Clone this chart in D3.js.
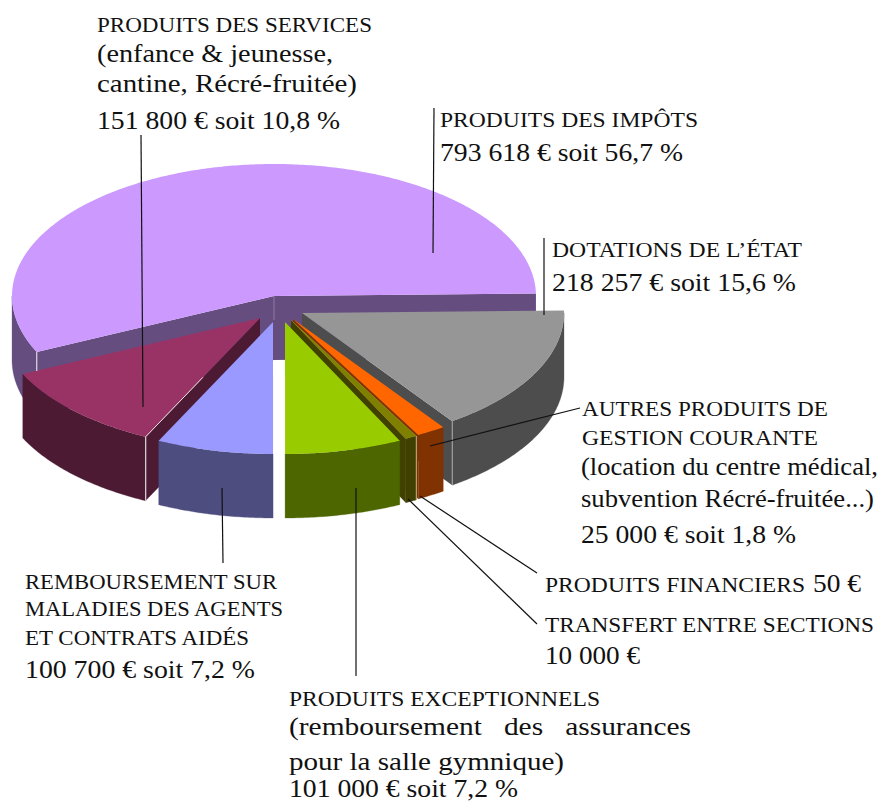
<!DOCTYPE html>
<html>
<head>
<meta charset="utf-8">
<script src="https://cdn.jsdelivr.net/npm/d3@7"></script>
<style>
  html, body { margin: 0; padding: 0; background: #fff; }
  text { font-family: "Liberation Serif", serif; fill: #111; }
</style>
</head>
<body>
<div id="chart"></div>
<script>
/////////////////////////////////////////////////////
/////////////////////// Data ////////////////////////
/////////////////////////////////////////////////////

// Clockwise from the east side of the pie
const categories = [
  "Dotations de l'État",
  "Autres produits de gestion courante",
  "Produits financiers",
  "Transfert entre sections",
  "Produits exceptionnels",
  "Remboursement sur maladies",
  "Produits des services",
  "Produits des impôts"
];
const values = [218257, 25000, 50, 10000, 101000, 100700, 151800, 793618];

/////////////////////////////////////////////////////
////////////////////// Styling //////////////////////
/////////////////////////////////////////////////////

const width = 881, height = 803;

const top_colors  = ["#969696", "#ff6600", "#c8b070", "#808000", "#99cc00", "#9999ff", "#993366", "#cc99ff"];
const wall_colors = ["#4d4d4d", "#803300", "#c8b070", "#404000", "#4d6600", "#4d4d80", "#4d1a33", "#664d80"];

// Pie center, radii and thickness on screen
const cx = 274, cy = 296, rx = 262, ry = 132, depth = 64;

// How far each slice has been pulled out of the pie
const explode = [[28, 17], [19, 23], [17, 24], [17, 24], [11, 26], [-1, 26], [-14, 22], [0, 0]];

// Back to front
const draw_order = [7, 6, 5, 0, 1, 2, 3, 4];

// Light edges left by the 3D rendering: slice, which end, opacity
const highlights = [[7, "start", 0.75], [6, "start", 0.8], [0, "end", 0.4], [3, "start", 0.35]];

/////////////////////////////////////////////////////
/////////////////////// Labels //////////////////////
/////////////////////////////////////////////////////

const caps_size = 20.5, body_size = 26;

// [text, x, baseline, size, wanted width]
const label_lines = [
  ["PRODUITS DES SERVICES", 97, 32, caps_size, 275],
  ["(enfance & jeunesse,", 97, 62, body_size, 236],
  ["cantine, Récré-fruitée)", 97, 92, body_size, 260],
  ["151 800 € soit 10,8 %", 97, 129, body_size, 243],
  ["PRODUITS DES IMPÔTS", 440, 127, caps_size, 258],
  ["793 618 € soit 56,7 %", 440, 161, body_size, 243],
  ["DOTATIONS DE L’ÉTAT", 552, 257, caps_size, 250],
  ["218 257 € soit 15,6 %", 552, 291, body_size, 244],
  ["AUTRES PRODUITS DE", 582, 416, caps_size, 246],
  ["GESTION COURANTE", 582, 445, caps_size, 236],
  ["(location du centre médical,", 581, 475, body_size, 297],
  ["subvention Récré-fruitée...)", 581, 507, body_size, 293],
  ["25 000 € soit 1,8 %", 581, 543, body_size, 215],
  ["PRODUITS FINANCIERS", 545, 592, caps_size, 260],
  ["50 €", 813, 592, body_size, 48],
  ["TRANSFERT ENTRE SECTIONS", 545, 632, caps_size, 329],
  ["10 000 €", 545, 664, body_size, 95],
  ["REMBOURSEMENT SUR", 25, 589, caps_size, 252],
  ["MALADIES DES AGENTS", 25, 616, caps_size, 258],
  ["ET CONTRATS AIDÉS", 25, 645, caps_size, 224],
  ["100 700 € soit 7,2 %", 25, 678, body_size, 230],
  ["PRODUITS EXCEPTIONNELS", 289, 706, caps_size, 311],
  ["(remboursement   des   assurances", 289, 735, body_size, 402],
  ["pour la salle gymnique)", 289, 770, body_size, 275],
  ["101 000 € soit 7,2 %", 289, 797, 25, 229]
];

// Leader lines from the texts to the slices
const leaders = [
  [141, 135, 143, 407],
  [434, 108, 433, 253],
  [544, 238, 544, 315],
  [580, 408, 430, 446],
  [537, 573, 420, 496],
  [537, 624, 408, 499],
  [356, 488, 356, 676],
  [222, 488, 223, 563]
];

/////////////////////////////////////////////////////
/////////////////////// Chart ///////////////////////
/////////////////////////////////////////////////////

const svg = d3.select("#chart")
  .append("svg")
  .attr("width", width)
  .attr("height", height)
  .style("display", "block");

// Angle 0 is east and angles grow clockwise on screen, the pie is turned a little
const turn = -1.1 * Math.PI / 180;
const slices = d3.pie().sort(null).startAngle(turn).endAngle(turn + 2 * Math.PI)(values);

// Flatten the unit circle to the pie's ellipse
const x_scale = d3.scaleLinear().domain([-1, 1]).range([-rx, rx]);
const y_scale = d3.scaleLinear().domain([-1, 1]).range([-ry, ry]);
const to_path = d3.line();

const rim = (i, a, drop = 0) => [
  cx + explode[i][0] + x_scale(Math.cos(a)),
  cy + explode[i][1] + y_scale(Math.sin(a)) + drop
];
const apex = (i, drop = 0) => [cx + explode[i][0], cy + explode[i][1] + drop];
const arc_points = (i, a0, a1, drop = 0) => {
  const n = Math.max(1, Math.ceil((a1 - a0) * 90));
  return d3.range(n + 1).map(k => rim(i, a0 + (a1 - a0) * k / n, drop));
};

const pie = svg.append("g").attr("class", "pie");

draw_order.forEach(i => {
  const s = slices[i];
  const g = pie.append("g").attr("class", "slice").attr("data-name", categories[i]);

  // Radial wall, only the side facing the viewer
  [s.startAngle, s.endAngle].forEach((a, k) => {
    const seen = k === 0 ? Math.cos(a) < 0 : Math.cos(a) > 0;
    if (!seen) return;
    g.append("path")
      .attr("d", to_path([apex(i), rim(i, a), rim(i, a, depth), apex(i, depth)]) + "Z")
      .attr("fill", wall_colors[i]);
  });

  // Outer wall, only the front half of the rim
  const a0 = Math.max(s.startAngle, 0), a1 = Math.min(s.endAngle, Math.PI);
  if (a1 > a0) {
    g.append("path")
      .attr("d", to_path(arc_points(i, a0, a1).concat(arc_points(i, a0, a1, depth).reverse())) + "Z")
      .attr("fill", wall_colors[i])
      .attr("stroke", wall_colors[i])
      .attr("stroke-width", i === 2 ? 0.8 : 0.3);
  }

  // Top
  g.append("path")
    .attr("d", to_path([apex(i)].concat(arc_points(i, s.startAngle, s.endAngle))) + "Z")
    .attr("fill", top_colors[i]);
});

// Light edges
highlights.forEach(([i, end, opacity]) => {
  const a = end === "start" ? slices[i].startAngle : slices[i].endAngle;
  const top = rim(i, a);
  pie.append("path")
    .attr("d", to_path([top, rim(i, a, i === 7 ? 19 : depth)]))
    .attr("fill", "none")
    .attr("stroke", "#fff")
    .attr("stroke-opacity", opacity)
    .attr("stroke-width", 1.2);
  if (i === 6) {
    // the front edge of this slice also catches the light, half way up
    const mid = apex(i);
    pie.append("path")
      .attr("d", to_path([top, [(top[0] + mid[0]) / 2, (top[1] + mid[1]) / 2]]))
      .attr("fill", "none")
      .attr("stroke", "#fff")
      .attr("stroke-opacity", opacity)
      .attr("stroke-width", 1);
  }
});

// The corner of the big slice's two inner walls
pie.append("path")
  .attr("d", to_path([apex(7), apex(7, 24)]))
  .attr("fill", "none")
  .attr("stroke", "#fff")
  .attr("stroke-opacity", 0.25)
  .attr("stroke-width", 1);

// Leader lines
svg.append("g").attr("class", "leaders").selectAll("line")
  .data(leaders)
  .enter().append("line")
  .attr("x1", d => d[0])
  .attr("y1", d => d[1])
  .attr("x2", d => d[2])
  .attr("y2", d => d[3])
  .attr("stroke", "#111")
  .attr("stroke-width", 1.2);

// Texts
svg.append("g").attr("class", "labels").selectAll("text")
  .data(label_lines)
  .enter().append("text")
  .attr("x", d => d[1])
  .attr("y", d => d[2])
  .attr("font-size", d => d[3])
  .attr("xml:space", "preserve")
  .style("white-space", "pre")
  .attr("textLength", d => d[4])
  .attr("lengthAdjust", "spacingAndGlyphs")
  .text(d => d[0]);
</script>
</body>
</html>
